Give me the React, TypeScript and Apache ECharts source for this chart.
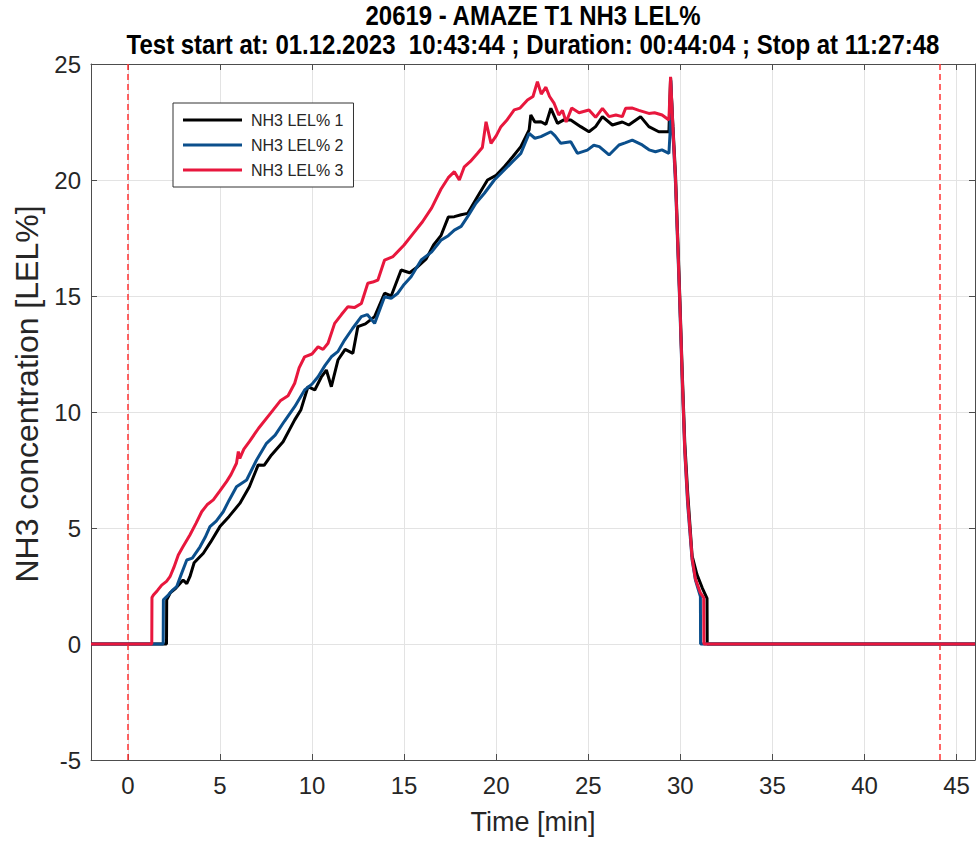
import React, { useEffect, useRef } from "react";
import * as echarts from "echarts";

const titleLines = [
  "20619 - AMAZE T1 NH3 LEL%",
  "Test start at: 01.12.2023  10:43:44 ; Duration: 00:44:04 ; Stop at 11:27:48",
];
const seriesNames = ["NH3 LEL% 1", "NH3 LEL% 2", "NH3 LEL% 3"];
const xTickValues = [0, 5, 10, 15, 20, 25, 30, 35, 40, 45];
const limitTimes = [0, 44.07];

// NH3 LEL% 1 (black)
const t1 = [-2, 2.1, 2.11, 2.3, 2.6, 3.0, 3.2, 3.37, 3.6, 4.1, 4.5, 5.0, 5.5, 6.08, 6.6, 7.08, 7.4, 7.8, 8.43, 9.06, 9.4, 9.78, 10.15, 10.5, 10.78, 11.05, 11.41, 11.8, 12.22, 12.49, 12.9, 13.4, 13.94, 14.3, 14.84, 15.3, 15.74, 16.2, 16.6, 17.0, 17.4, 17.73, 18.1, 18.45, 19.0, 19.53, 20.0, 20.44, 20.9, 21.34, 21.79, 21.88, 22.1, 22.43, 22.7, 22.97, 23.33, 23.7, 24.05, 24.59, 25.04, 25.4, 25.77, 26.31, 26.85, 27.2, 27.84, 28.29, 28.83, 29.38, 29.47, 29.6, 29.74, 29.85, 29.97, 30.1, 30.24, 30.4, 30.64, 30.9, 31.2, 31.45, 31.46, 46];
const v1 = [0, 0, 1.9, 2.2, 2.4, 2.76, 2.6, 2.9, 3.5, 3.91, 4.4, 5.06, 5.5, 6.06, 6.78, 7.72, 7.7, 8.15, 8.72, 9.66, 10.1, 11.09, 10.95, 11.5, 11.81, 11.09, 12.24, 12.7, 12.53, 13.68, 13.8, 14.11, 15.12, 15.0, 16.12, 16.0, 16.26, 16.6, 17.2, 17.6, 18.4, 18.42, 18.5, 18.56, 19.3, 20.0, 20.2, 20.57, 21.0, 21.44, 22.16, 22.8, 22.5, 22.51, 22.4, 23.09, 22.44, 22.6, 22.59, 22.3, 22.08, 22.3, 22.73, 22.37, 22.5, 22.37, 22.73, 22.3, 22.08, 22.08, 24.4, 22.3, 20.2, 17.7, 15.0, 11.8, 8.7, 6.5, 3.8, 3.0, 2.4, 1.97, 0, 0];

// NH3 LEL% 2 (blue)
const t2 = [-2, 1.92, 1.93, 2.11, 2.4, 2.65, 2.9, 3.2, 3.5, 3.92, 4.2, 4.46, 4.8, 5.18, 5.5, 5.9, 6.45, 6.99, 7.53, 8.0, 8.5, 9.06, 9.6, 10.0, 10.33, 10.7, 11.05, 11.4, 11.77, 12.2, 12.68, 13.0, 13.4, 13.94, 14.3, 14.66, 15.0, 15.38, 15.93, 16.5, 17.0, 17.4, 17.73, 18.1, 18.45, 18.9, 19.36, 19.9, 20.44, 20.9, 21.34, 21.79, 22.1, 22.43, 22.97, 23.2, 23.51, 24.05, 24.41, 24.95, 25.3, 25.6, 26.13, 26.67, 27.0, 27.39, 27.93, 28.3, 28.65, 29.0, 29.38, 29.44, 29.48, 29.6, 29.74, 29.85, 29.97, 30.1, 30.24, 30.4, 30.64, 30.82, 31.09, 31.1, 46];
const v2 = [0, 0, 1.9, 2.04, 2.3, 2.47, 3.0, 3.62, 3.7, 4.19, 4.6, 5.06, 5.3, 5.7, 6.2, 6.78, 7.07, 7.93, 8.65, 9.0, 9.6, 10.23, 10.95, 11.2, 11.52, 12.0, 12.38, 12.6, 13.1, 13.6, 14.11, 14.2, 13.82, 14.97, 14.9, 15.12, 15.5, 15.83, 16.55, 16.9, 17.4, 17.6, 17.84, 18.0, 18.42, 19.0, 19.43, 20.0, 20.43, 20.8, 21.15, 22.01, 21.8, 21.87, 22.08, 21.9, 21.58, 21.65, 21.15, 21.29, 21.5, 21.44, 21.08, 21.51, 21.6, 21.72, 21.51, 21.3, 21.22, 21.3, 21.15, 22.0, 24.3, 22.0, 19.8, 17.3, 14.6, 11.4, 8.3, 6.0, 3.62, 2.76, 2.04, 0, 0];

// NH3 LEL% 3 (red)
const t3 = [-2, 1.3, 1.31, 1.39, 1.6, 1.84, 2.1, 2.29, 2.5, 2.74, 3.0, 3.37, 3.7, 4.01, 4.3, 4.64, 5.0, 5.36, 5.6, 5.9, 6.0, 6.08, 6.3, 6.6, 7.1, 7.7, 8.3, 8.7, 9.06, 9.3, 9.6, 10.0, 10.33, 10.6, 10.87, 11.23, 11.6, 11.95, 12.3, 12.68, 13.03, 13.3, 13.58, 13.94, 14.4, 15.0, 15.5, 16.0, 16.5, 17.0, 17.4, 17.73, 18.0, 18.27, 18.6, 18.99, 19.25, 19.45, 19.72, 20.0, 20.26, 20.6, 20.98, 21.3, 21.7, 22.0, 22.24, 22.45, 22.7, 22.9, 23.15, 23.4, 23.6, 23.8, 24.1, 24.5, 25.04, 25.4, 25.77, 26.13, 26.5, 26.85, 27.03, 27.4, 27.75, 28.29, 28.6, 29.01, 29.38, 29.47, 29.6, 29.74, 29.85, 29.97, 30.1, 30.24, 30.4, 30.64, 30.82, 31.09, 31.27, 31.28, 46];
const v3 = [0, 0, 2.0, 2.11, 2.3, 2.54, 2.7, 2.9, 3.3, 3.84, 4.2, 4.7, 5.2, 5.7, 6.0, 6.21, 6.6, 7.0, 7.3, 7.79, 8.3, 8.0, 8.4, 8.72, 9.3, 9.9, 10.5, 10.7, 11.24, 11.9, 12.38, 12.5, 12.81, 12.7, 12.96, 13.82, 14.2, 14.54, 14.5, 14.68, 15.55, 15.6, 15.69, 16.55, 16.7, 17.2, 17.7, 18.2, 18.8, 19.6, 20.1, 20.36, 20.0, 20.57, 20.8, 21.15, 21.4, 22.51, 21.58, 21.9, 22.3, 22.6, 23.02, 23.1, 23.45, 23.6, 24.24, 23.7, 24.0, 23.6, 23.3, 22.8, 23.0, 22.5, 23.1, 22.9, 23.02, 22.7, 23.09, 22.73, 22.8, 22.73, 23.09, 23.1, 23.0, 22.87, 22.9, 22.8, 22.59, 24.45, 22.2, 20.0, 17.5, 14.8, 11.6, 8.4, 6.2, 3.7, 2.8, 2.2, 2.0, 0, 0];

const seriesColors = ["#000000", "#0b4f8c", "#e8173d"];
const FONT = "'Liberation Sans', Arial, Helvetica, sans-serif";
const TXT = "#262626";
const AX = "#4d4d4d";
const LEGEND_ICON = "path://M0,0H60V3H0Z";

function pairs(t: number[], v: number[]) {
  return t.map((x, i) => [x, v[i]]);
}

export default function App() {
  const ref = useRef<HTMLDivElement>(null);
  useEffect(() => {
    const chart = echarts.init(ref.current!, null, { renderer: "svg" });
    const data = [pairs(t1, v1), pairs(t2, v2), pairs(t3, v3)];
    chart.setOption({
      animation: false,
      backgroundColor: "#ffffff",
      textStyle: { fontFamily: FONT },
      grid: { left: 91, right: 4, top: 64, bottom: 83, containLabel: false },
      graphic: titleLines.map((text, i) => ({
        type: "text",
        x: 533,
        y: i === 0 ? 16 : 45,
        scaleY: 1.12,
        style: {
          text,
          font: `bold 24px ${FONT}`,
          fill: "#000",
          textAlign: "center",
          textVerticalAlign: "middle",
        },
      })),
      legend: {
        data: seriesNames.map((name) => ({ name, icon: LEGEND_ICON })),
        orient: "vertical",
        left: 173,
        top: 103,
        itemWidth: 59,
        itemHeight: 14,
        itemGap: 9,
        padding: [9, 10, 9, 10],
        borderColor: "#333",
        borderWidth: 1,
        backgroundColor: "#fff",
        textStyle: { fontSize: 16, color: TXT, fontFamily: FONT, padding: [0, 0, 0, 4] },
      },
      xAxis: [
        {
          type: "value",
          min: -2,
          max: 46,
          position: "bottom",
          name: "Time [min]",
          nameLocation: "middle",
          nameGap: 48,
          nameTextStyle: { fontSize: 27, color: TXT, fontFamily: FONT },
          axisLine: { show: true, onZero: false, lineStyle: { color: AX, width: 1 } },
          axisTick: { show: true, inside: true, length: 6, customValues: xTickValues, lineStyle: { color: AX } },
          axisLabel: { customValues: xTickValues, fontSize: 24, color: TXT, margin: 13, fontFamily: FONT },
          splitLine: { show: true, lineStyle: { color: "#e3e3e3", width: 1 } },
        },
        {
          type: "value",
          min: -2,
          max: 46,
          position: "top",
          axisLine: { show: true, onZero: false, lineStyle: { color: AX, width: 1 } },
          axisTick: { show: true, inside: true, length: 6, customValues: xTickValues, lineStyle: { color: AX } },
          axisLabel: { show: false },
          splitLine: { show: false },
        },
      ],
      yAxis: [
        {
          type: "value",
          min: -5,
          max: 25,
          interval: 5,
          position: "left",
          name: "NH3 concentration [LEL%]",
          nameLocation: "middle",
          nameGap: 42,
          nameTextStyle: { fontSize: 32, color: TXT, fontFamily: FONT, padding: [0, 0, 0, 36] },
          axisLine: { show: true, onZero: false, lineStyle: { color: AX, width: 1 } },
          axisTick: { show: true, inside: true, length: 6, lineStyle: { color: AX } },
          axisLabel: { fontSize: 24, color: TXT, margin: 10, fontFamily: FONT },
          splitLine: { show: true, lineStyle: { color: "#e3e3e3", width: 1 } },
        },
        {
          type: "value",
          min: -5,
          max: 25,
          interval: 5,
          position: "right",
          axisLine: { show: true, onZero: false, lineStyle: { color: AX, width: 1 } },
          axisTick: { show: true, inside: true, length: 6, lineStyle: { color: AX } },
          axisLabel: { show: false },
          splitLine: { show: false },
        },
      ],
      series: seriesNames.map((name, i) => ({
        name,
        type: "line",
        xAxisIndex: 0,
        yAxisIndex: 0,
        data: data[i],
        symbol: "none",
        showSymbol: false,
        color: seriesColors[i],
        lineStyle: { width: 3, color: seriesColors[i] },
        z: 3 + i,
        markLine:
          i === 0
            ? {
                silent: true,
                symbol: ["none", "none"],
                label: { show: false },
                lineStyle: { color: "#ff3333", type: [6, 4], width: 1.5 },
                data: limitTimes.map((x) => ({ xAxis: x })),
              }
            : undefined,
      })),
    });
    return () => chart.dispose();
  }, []);
  return (
    <div
      ref={ref}
      style={{ position: "absolute", left: 0, top: 0, width: 979, height: 843, background: "#fff" }}
    />
  );
}
